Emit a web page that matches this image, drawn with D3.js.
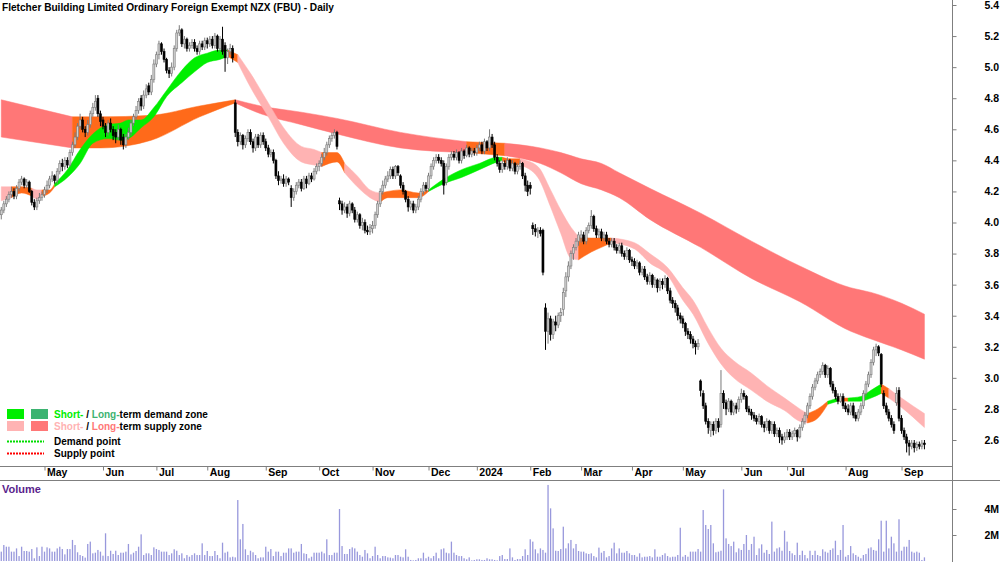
<!DOCTYPE html>
<html><head><meta charset="utf-8">
<script src="https://cdn.jsdelivr.net/npm/d3@7"></script>
<style>
body{margin:0;background:#fff}
svg{display:block}
text{font-family:"Liberation Sans Narrow","Arial Narrow","Liberation Sans",Arial,sans-serif;font-weight:bold;font-size:10.5px;fill:#000}
</style></head><body>
<svg id="c" width="1000" height="562"></svg>
<script>
const titleText = "Fletcher Building Limited Ordinary Foreign Exempt NZX (FBU) - Daily";
// trading days per month (Apr 2023 .. Sep 2024)
const monthLabels = ["Apr","May","Jun","Jul","Aug","Sep","Oct","Nov","Dec","2024","Feb","Mar","Apr","May","Jun","Jul","Aug","Sep"];
const monthDays   = [17,23,21,20,23,21,21,22,19,21,20,20,20,23,18,23,22,10];
const yTicks = [2.6,2.8,3.0,3.2,3.4,3.6,3.8,4.0,4.2,4.4,4.6,4.8,5.0,5.2,5.4];
const volTicks = [2,4]; // millions

const open = [
4.05,4.08,4.12,4.15,4.18,4.20,4.17,4.22,4.26,4.28,4.24,4.26,4.20,4.13,4.10,4.14,4.16,
4.18,4.21,4.24,4.28,4.30,4.27,4.33,4.38,4.36,4.40,4.37,4.45,4.50,4.55,4.62,4.66,4.60,4.58,4.63,4.70,4.74,4.80,4.70,
4.66,4.62,4.58,4.64,4.60,4.58,4.55,4.60,4.55,4.50,4.55,4.58,4.64,4.68,4.72,4.80,4.75,4.82,4.88,4.84,4.92,
5.02,5.08,5.15,5.10,5.05,4.98,4.96,5.00,5.12,5.22,5.24,5.15,5.18,5.12,5.14,5.16,5.12,5.10,5.15,5.13,
5.17,5.15,5.18,5.14,5.20,5.12,5.18,5.14,5.06,5.10,5.12,4.77,4.58,4.52,4.56,4.50,4.54,4.58,4.52,4.48,4.55,4.50,4.56,
4.52,4.48,4.44,4.45,4.40,4.30,4.27,4.28,4.25,4.28,4.22,4.16,4.20,4.24,4.26,4.22,4.28,4.25,4.30,4.28,4.33,
4.36,4.38,4.42,4.45,4.50,4.54,4.56,4.58,4.14,4.12,4.08,4.10,4.06,4.12,4.08,4.02,4.05,3.98,4.00,3.95,3.94,
3.96,3.98,4.05,4.12,4.20,4.24,4.28,4.30,4.34,4.30,4.36,4.30,4.24,4.20,4.15,4.10,4.12,4.08,4.10,4.15,4.20,4.24,
4.22,4.30,4.36,4.40,4.42,4.40,4.38,4.26,4.36,4.42,4.44,4.42,4.45,4.40,4.46,4.43,4.48,4.44,4.46,
4.45,4.48,4.50,4.46,4.52,4.48,4.55,4.50,4.42,4.38,4.34,4.38,4.36,4.40,4.35,4.38,4.33,4.36,4.38,4.30,4.24,
4.24,3.98,3.96,3.94,3.95,3.95,3.45,3.30,3.38,3.28,3.36,3.34,3.40,3.44,3.56,3.65,3.72,3.80,3.84,3.88,
3.90,3.92,3.88,3.95,3.98,4.04,3.96,3.92,3.94,3.90,3.92,3.88,3.86,3.88,3.84,3.82,3.85,3.80,3.78,3.82,
3.76,3.75,3.72,3.74,3.68,3.70,3.65,3.62,3.66,3.60,3.63,3.58,3.62,3.60,3.64,3.56,3.50,3.48,3.45,3.40,
3.38,3.35,3.30,3.28,3.25,3.22,3.20,2.98,2.90,2.82,2.72,2.66,2.70,2.66,2.72,2.70,2.90,2.84,2.80,2.85,2.78,2.82,2.80,
2.86,2.90,2.88,2.80,2.78,2.76,2.74,2.72,2.75,2.70,2.68,2.72,2.66,2.70,2.64,2.66,2.62,2.60,
2.62,2.65,2.62,2.64,2.66,2.62,2.68,2.72,2.76,2.82,2.88,2.94,2.98,3.02,3.04,3.08,3.02,3.06,2.96,2.92,2.88,2.85,2.88,
2.82,2.80,2.78,2.82,2.76,2.74,2.78,2.82,2.90,2.96,3.02,3.10,3.18,3.20,3.15,2.90,2.82,2.78,2.74,2.70,2.84,2.92,
2.74,2.66,2.62,2.58,2.56,2.58,2.55,2.57,2.56,2.58];
const high = [
4.10,4.14,4.17,4.20,4.23,4.22,4.24,4.28,4.30,4.29,4.28,4.27,4.21,4.15,4.16,4.19,4.20,
4.23,4.27,4.30,4.33,4.31,4.35,4.40,4.41,4.42,4.42,4.47,4.52,4.58,4.64,4.70,4.68,4.62,4.66,4.72,4.77,4.82,4.82,4.72,
4.68,4.64,4.66,4.67,4.62,4.60,4.63,4.61,4.57,4.57,4.61,4.66,4.70,4.75,4.80,4.82,4.85,4.89,4.90,4.95,5.05,
5.10,5.17,5.16,5.12,5.06,5.00,5.03,5.14,5.24,5.27,5.25,5.20,5.19,5.16,5.18,5.18,5.14,5.17,5.17,5.19,
5.19,5.20,5.20,5.22,5.21,5.20,5.26,5.16,5.12,5.15,5.14,4.79,4.60,4.58,4.57,4.56,4.60,4.60,4.54,4.57,4.57,4.58,4.58,
4.54,4.50,4.47,4.47,4.41,4.33,4.30,4.31,4.30,4.29,4.24,4.22,4.26,4.28,4.28,4.30,4.30,4.32,4.32,4.35,4.38,
4.40,4.44,4.48,4.52,4.56,4.58,4.60,4.59,4.16,4.14,4.13,4.12,4.14,4.13,4.10,4.07,4.06,4.03,4.02,3.98,3.99,
4.01,4.07,4.14,4.22,4.27,4.30,4.33,4.36,4.36,4.37,4.37,4.31,4.26,4.21,4.17,4.14,4.14,4.12,4.17,4.22,4.26,4.26,
4.32,4.38,4.42,4.44,4.44,4.42,4.40,4.38,4.44,4.46,4.46,4.47,4.46,4.48,4.47,4.50,4.49,4.48,4.48,
4.50,4.52,4.52,4.54,4.53,4.60,4.57,4.52,4.44,4.40,4.40,4.40,4.42,4.41,4.40,4.39,4.38,4.40,4.39,4.32,4.27,
4.26,4.00,3.99,3.97,3.97,3.96,3.48,3.42,3.40,3.38,3.40,3.42,3.45,3.58,3.68,3.75,3.82,3.86,3.90,3.94,
3.95,3.94,3.97,4.00,4.08,4.05,3.98,3.96,3.96,3.94,3.94,3.90,3.90,3.90,3.86,3.87,3.87,3.82,3.84,3.83,
3.78,3.77,3.76,3.75,3.72,3.72,3.67,3.68,3.67,3.65,3.64,3.64,3.64,3.66,3.65,3.58,3.52,3.50,3.47,3.42,
3.40,3.36,3.32,3.30,3.27,3.24,3.25,2.99,2.92,2.84,2.74,2.72,2.72,2.74,2.74,3.05,2.92,2.86,2.87,2.86,2.84,2.84,2.88,
2.93,2.92,2.89,2.82,2.80,2.78,2.76,2.77,2.76,2.72,2.74,2.73,2.72,2.72,2.68,2.68,2.64,2.65,
2.67,2.67,2.66,2.68,2.67,2.70,2.74,2.78,2.84,2.90,2.96,3.00,3.04,3.06,3.10,3.09,3.08,3.07,2.98,2.94,2.90,2.90,2.90,
2.84,2.83,2.84,2.84,2.78,2.80,2.84,2.92,2.98,3.04,3.12,3.20,3.22,3.21,3.16,2.92,2.84,2.80,2.76,2.72,2.94,2.94,
2.76,2.68,2.64,2.60,2.60,2.60,2.59,2.59,2.60,2.60];
const low = [
4.02,4.06,4.10,4.13,4.16,4.15,4.15,4.20,4.24,4.22,4.22,4.19,4.11,4.08,4.08,4.12,4.14,
4.16,4.19,4.22,4.26,4.25,4.25,4.31,4.33,4.34,4.35,4.36,4.43,4.48,4.53,4.60,4.58,4.55,4.56,4.61,4.68,4.72,4.68,4.62,
4.60,4.55,4.56,4.58,4.53,4.51,4.53,4.50,4.47,4.48,4.53,4.56,4.62,4.66,4.70,4.72,4.73,4.80,4.82,4.82,4.90,
5.00,5.05,5.08,5.03,4.96,4.93,4.94,4.98,5.10,5.20,5.13,5.12,5.10,5.10,5.12,5.10,5.08,5.08,5.11,5.11,
5.12,5.13,5.12,5.12,5.10,5.10,5.08,4.97,5.02,5.08,5.03,4.55,4.49,4.50,4.47,4.48,4.52,4.50,4.45,4.46,4.48,4.48,4.50,
4.46,4.42,4.42,4.38,4.28,4.24,4.25,4.23,4.23,4.24,4.10,4.14,4.18,4.22,4.20,4.21,4.22,4.24,4.26,4.27,4.31,
4.33,4.36,4.40,4.43,4.48,4.52,4.54,4.47,4.08,4.05,4.06,4.03,4.04,4.06,4.00,4.00,3.96,3.95,3.93,3.92,3.92,
3.93,3.96,4.03,4.10,4.18,4.22,4.26,4.28,4.28,4.28,4.30,4.22,4.18,4.13,4.07,4.08,4.06,4.06,4.08,4.13,4.18,4.20,
4.20,4.28,4.34,4.38,4.38,4.36,4.18,4.24,4.34,4.40,4.40,4.40,4.38,4.38,4.41,4.42,4.42,4.42,4.43,
4.43,4.46,4.44,4.44,4.46,4.46,4.48,4.40,4.36,4.32,4.32,4.34,4.34,4.33,4.33,4.31,4.31,4.34,4.28,4.20,4.17,
4.18,3.92,3.91,3.90,3.91,3.66,3.18,3.22,3.24,3.25,3.30,3.32,3.36,3.40,3.52,3.62,3.70,3.76,3.82,3.85,
3.87,3.86,3.86,3.93,3.96,3.94,3.90,3.90,3.88,3.88,3.86,3.84,3.84,3.82,3.80,3.80,3.78,3.76,3.76,3.74,
3.72,3.70,3.70,3.66,3.66,3.63,3.60,3.60,3.58,3.58,3.55,3.56,3.57,3.58,3.54,3.48,3.45,3.42,3.37,3.35,
3.32,3.27,3.25,3.22,3.19,3.15,3.18,2.88,2.80,2.70,2.64,2.62,2.63,2.64,2.65,2.68,2.80,2.76,2.78,2.76,2.76,2.77,2.78,
2.84,2.86,2.78,2.76,2.73,2.72,2.70,2.70,2.68,2.65,2.66,2.64,2.64,2.62,2.62,2.58,2.57,2.58,
2.60,2.60,2.60,2.62,2.59,2.61,2.66,2.70,2.74,2.80,2.86,2.92,2.96,3.00,3.02,3.00,3.00,2.94,2.90,2.86,2.83,2.84,2.80,
2.78,2.76,2.76,2.74,2.72,2.72,2.76,2.80,2.88,2.94,3.00,3.08,3.14,3.14,2.94,2.80,2.76,2.72,2.68,2.64,2.82,2.72,
2.64,2.60,2.52,2.50,2.54,2.52,2.53,2.54,2.54,2.54];
const close = [
4.08,4.12,4.15,4.18,4.20,4.17,4.22,4.26,4.28,4.24,4.26,4.20,4.13,4.10,4.14,4.16,4.18,
4.21,4.24,4.28,4.30,4.27,4.33,4.38,4.36,4.40,4.37,4.45,4.50,4.55,4.62,4.66,4.60,4.58,4.63,4.70,4.74,4.78,4.70,4.65,
4.62,4.58,4.64,4.60,4.56,4.55,4.60,4.53,4.50,4.55,4.58,4.64,4.68,4.72,4.78,4.75,4.82,4.86,4.84,4.92,5.02,
5.08,5.15,5.10,5.05,4.98,4.96,5.00,5.12,5.22,5.24,5.15,5.18,5.12,5.14,5.16,5.12,5.10,5.15,5.13,5.17,
5.15,5.18,5.14,5.20,5.12,5.18,5.10,5.06,5.10,5.12,5.06,4.58,4.52,4.56,4.50,4.54,4.58,4.52,4.48,4.55,4.50,4.56,4.52,
4.48,4.44,4.45,4.40,4.30,4.27,4.28,4.25,4.28,4.26,4.16,4.20,4.24,4.26,4.22,4.28,4.25,4.30,4.28,4.33,4.36,
4.38,4.42,4.45,4.50,4.54,4.56,4.58,4.49,4.12,4.08,4.10,4.06,4.12,4.08,4.02,4.05,3.98,4.00,3.95,3.94,3.97,
3.98,4.05,4.12,4.20,4.24,4.28,4.30,4.34,4.30,4.36,4.32,4.24,4.20,4.15,4.10,4.12,4.08,4.10,4.15,4.20,4.24,4.22,
4.30,4.36,4.40,4.42,4.40,4.38,4.24,4.36,4.42,4.44,4.42,4.45,4.40,4.46,4.43,4.48,4.44,4.46,4.45,
4.48,4.50,4.46,4.52,4.48,4.55,4.50,4.42,4.38,4.34,4.38,4.36,4.40,4.35,4.38,4.33,4.36,4.38,4.30,4.24,4.20,
4.22,3.96,3.94,3.95,3.93,3.68,3.30,3.38,3.28,3.36,3.34,3.40,3.42,3.55,3.65,3.72,3.80,3.84,3.88,3.92,
3.92,3.88,3.95,3.98,4.04,3.96,3.92,3.94,3.90,3.92,3.88,3.86,3.88,3.84,3.82,3.85,3.80,3.78,3.82,3.76,
3.75,3.72,3.74,3.68,3.70,3.65,3.62,3.66,3.60,3.63,3.58,3.62,3.60,3.64,3.56,3.50,3.48,3.45,3.40,3.38,
3.35,3.30,3.28,3.25,3.22,3.20,3.22,2.92,2.82,2.72,2.68,2.70,2.66,2.72,2.68,2.90,2.84,2.80,2.85,2.78,2.82,2.80,2.86,
2.90,2.88,2.80,2.78,2.76,2.74,2.72,2.75,2.70,2.68,2.72,2.66,2.70,2.64,2.66,2.62,2.60,2.62,
2.65,2.62,2.64,2.66,2.62,2.68,2.72,2.76,2.82,2.88,2.94,2.98,3.02,3.04,3.08,3.02,3.06,2.96,2.92,2.88,2.85,2.88,2.82,
2.80,2.78,2.82,2.76,2.74,2.78,2.82,2.90,2.96,3.02,3.10,3.18,3.20,3.16,2.96,2.82,2.78,2.74,2.70,2.66,2.90,2.74,
2.66,2.62,2.58,2.56,2.58,2.55,2.57,2.56,2.58,2.57];
// volume in millions of shares
const volumeM = [
.72,1.23,1.10,1.10,.72,.72,.97,.38,1.10,.77, .77,.72,.92,.21,1.05,.38,1.10,.72,1.05,.97,
.72,.72,.97,1.10,.92,.51,.92,.92,1.62,1.23, .67,.46,.38,.26,1.31,1.49,.59,.64,.85,.72,
.41,2.13,.38,.79,.54,.79,.46,.64,.64,.72, 1.31,.51,.64,.77,1.10,2.05,.46,.59,.59,.46,
1.05,.92,.85,.72,.72,.72,.46,.59,.90,.79, .46,.59,.21,.46,.33,.46,.59,.46,.46,1.36,
.46,.77,.38,.38,.77,.46,.21,1.41,.64,.72, .28,.33,.28,4.69,1.67,2.85,.90,.46,.79,.67,
.46,.21,.28,.28,1.10,.72,.92,.38,.72,.72, .38,.64,.64,.97,.97,.64,.72,.72,1.31,.59,
.54,.21,.33,.64,.64,.64,.72,.59,1.67,.46, .46,.64,.64,4.0,1.15,.54,.54,.92,1.05,.97,
.72,.46,.33,.85,.59,.21,.38,1.10,.46,.21, .38,.38,.28,.26,.21,.46,.46,.33,.28,.90,
.33,.08,.05,.08,.21,.21,.64,.21,.33,.21, .38,.64,.21,.90,.97,.64,.59,1.49,.64,.46,
.38,.38,.21,.13,.28,.05,.08,.13,.13,.08, .08,.21,.13,.13,.08,.05,
.38,.46,.15,.15,.97,.28,.08,.15,.15,.38, .90,.46,1.67,1.49,.90,.59,.97,.85,.64,5.85,
4.05,2.51,.79,.77,.92,2.64,.97,1.36,1.62,.97, 1.31,.77,.72,.72,.59,.54,.59,.38,.28,1.03,
.64,.77,.28,.38,.97,1.41,.59,.97,.64,.64, .77,.59,.46,.46,.33,.59,.28,.33,.33,.38,
.28,.90,.33,.33,.46,.59,.38,.28,.33,.33, .46,2.56,.33,.46,.33,.72,.72,.72,.92,.72,
3.92,2.77,2.46,2.77,1.36,.67,.72,.79,5.51,1.74, 1.31,1.15,1.49,.67,.97,.85,1.31,2.0,.85,
1.31,1.87,.46,.97,1.28,.64,.85,.54,3.03,.72, .97,1.05,.79,2.33,1.49,.77,.59,.46,1.41,.46,
.79,.46,.21,.79,.46,.79,.46,.38,.90,.72, .64,.85,.97,1.56,.46,.85,2.77,.33,.46,
1.15,.59,.46,.33,.21,.46,.54,.97,1.05,.85, .79,1.67,3.10,.72,3.10,.97,1.87,1.36,.72,3.21,
.79,1.10,1.10,1.62,.72,.64,.72,.64,.08,.28];

// moving-average zones: sample day index, upper / lower price, zone type
const shortIdx = [0,4,8,12,14,16,19,21,26,31,36,42,47,50,55,60,65,71,76,81,86,89,93,98,105,111,118,123,126,132,135,140,145,149,152,157,164,168,174,181,188,195,197,200,204,211,216,220,224,227,232,236,240,249,255,262,268,272,278,283,288,295,301,308,314,317,321,325,329,333,338,342,346,349,354,363];
const shortTop = [4.23,4.23,4.23,4.22,4.21,4.21,4.21,4.25,4.34,4.47, 4.57,4.63,4.64,4.66,4.66,4.74,4.85,4.98,5.06,5.09, 5.11,5.11,5.08,4.96,4.77,4.61,4.49,4.47,4.45,4.45, 4.38,4.30,4.21,4.19,4.20,4.21,4.19,4.21,4.28,4.34, 4.38,4.42,4.42,4.41,4.41,4.36,4.21,4.08,3.97,3.91, 3.90,3.90,3.90,3.87,3.80,3.71,3.58,3.50,3.32,3.19, 3.11,3.03,2.95,2.87,2.80,2.77,2.80,2.85,2.87,2.87, 2.88,2.92,2.96,2.93,2.87,2.77];
const shortBot = [4.14,4.16,4.19,4.17,4.15,4.17,4.19,4.23,4.29,4.38, 4.51,4.54,4.53,4.54,4.61,4.68,4.81,4.90,4.97,5.03, 5.05,5.07,5.03,4.87,4.68,4.51,4.39,4.37,4.36,4.39, 4.32,4.23,4.16,4.13,4.16,4.16,4.16,4.20,4.25,4.29, 4.34,4.39,4.40,4.37,4.37,4.29,4.10,3.93,3.77,3.76, 3.81,3.84,3.87,3.83,3.74,3.66,3.50,3.41,3.22,3.09, 3.00,2.92,2.85,2.79,2.72,2.71,2.74,2.83,2.85,2.85, 2.85,2.87,2.90,2.87,2.81,2.68];
const shortZone = ["ss","mx","mx","ss","ss","mx","mx","sd","sd","sd", "sd","sd","sd","sd","sd","sd","sd","sd","sd","sd", "sd","mx","ss","ss","ss","ss","ss","ss","mx","mx", "ss","ss","ss","mx","mx","mx","mx","sd","sd","sd", "sd","sd","mx","mx","ss","ss","ss","ss","ss","mx", "mx","mx","ss","ss","ss","ss","ss","ss","ss","ss", "ss","ss","ss","ss","ss","mx","mx","sd","mx","sd", "sd","sd","mx","ss","ss","ss"];
const longIdx = [0,28,39,59,78,92,102,118,132,157,183,198,212,220,228,236,243,255,275,295,314,334,342,354,363];
const longTop = [4.79,4.68,4.68,4.69,4.75,4.79,4.75,4.71,4.67,4.58,4.52,4.51,4.48,4.45,4.41,4.38,4.32,4.22,4.06,3.88,3.72,3.58,3.55,3.48,3.41];
const longBot = [4.55,4.48,4.48,4.53,4.68,4.77,4.70,4.63,4.57,4.48,4.45,4.43,4.38,4.32,4.25,4.21,4.16,4.02,3.84,3.64,3.49,3.30,3.25,3.18,3.12];
const longZone = ["ls","mx","mx","mx","mx","ls","ls","ls","ls","ls","mx","ls","ls","ls","ls","ls","ls","ls","ls","ls","ls","ls","ls","ls","ls"];

const zoneColor = {sd:"#00ee00", ld:"#3cb371", ss:"#ffb3b3", ls:"#ff7777", mx:"#ff6a1a"};

const svg = d3.select("#c");
const N = close.length;
const xi = d3.scaleLinear().domain([-0.5, N - 0.5]).range([0, 925.7]);
const y = d3.scaleLinear().domain([2.6, 5.4]).range([440, 5]);
const vy = d3.scaleLinear().domain([0, 4]).range([561, 509]);

// bands
const area = d3.area().x(d => xi(d.i)).y0(d => y(d.b)).y1(d => y(d.t)).curve(d3.curveMonotoneX);
function drawBand(idx, top, bot, zone) {
  const pts = idx.map((d, k) => ({i: d, t: top[k], b: bot[k], z: zone[k]}));
  const g = svg.append("g");
  let s = 0;
  for (let k = 1; k < pts.length; k++) {
    if (k === pts.length - 1 || pts[k].z !== pts[s].z) {
      g.append("path").datum(pts.slice(s, k + 1)).attr("d", area)
        .attr("fill", zoneColor[pts[s].z]).attr("stroke", zoneColor[pts[s].z]).attr("stroke-width", 0.5);
      s = k;
    }
  }
}
drawBand(longIdx, longTop, longBot, longZone);
drawBand(shortIdx, shortTop, shortBot, shortZone);

// candles
const cd = close.map((c, i) => ({i, o: open[i], h: high[i], l: low[i], c}));
const cg = svg.append("g");
cg.selectAll("line").data(cd).join("line")
  .attr("x1", d => xi(d.i)).attr("x2", d => xi(d.i))
  .attr("y1", d => y(d.h)).attr("y2", d => y(d.l))
  .attr("stroke", d => d.c >= d.o ? "#7a7a7a" : "#000").attr("stroke-width", 1);
cg.selectAll("rect").data(cd).join("rect")
  .attr("x", d => xi(d.i) - 1).attr("width", 2)
  .attr("y", d => y(Math.max(d.o, d.c)))
  .attr("height", d => Math.max(1, Math.abs(y(d.o) - y(d.c))))
  .attr("fill", d => d.c >= d.o ? "#d0d0d0" : "#000")
  .attr("stroke", d => d.c >= d.o ? "#7a7a7a" : "#000").attr("stroke-width", 0.6);

// frame
const frame = svg.append("g").attr("stroke", "#7f7f7f").attr("stroke-width", 1);
frame.append("line").attr("x1", 0).attr("x2", 952).attr("y1", 466.5).attr("y2", 466.5);
frame.append("line").attr("x1", 0).attr("x2", 1000).attr("y1", 480.5).attr("y2", 480.5);
frame.append("line").attr("x1", 952.5).attr("x2", 952.5).attr("y1", 0).attr("y2", 562);

function plain(sel) { sel.attr("font-family", null).attr("font-size", null); }

// x axis
const starts = [];
monthDays.reduce((acc, n) => { starts.push(acc); return acc + n; }, 0);
const xa = svg.append("g").attr("transform", "translate(0,466.5)")
  .call(d3.axisBottom(xi).tickValues(starts.slice(1)).tickSize(4)
    .tickFormat((d) => monthLabels[starts.indexOf(d)]));
xa.select(".domain").remove();
xa.selectAll("line").attr("stroke", "#7f7f7f");
xa.selectAll("text").attr("text-anchor", "start").attr("x", 2).attr("y", 2).attr("dy", "0.72em");
plain(xa);

// y axis
const ya = svg.append("g").attr("transform", "translate(952.5,0)")
  .call(d3.axisRight(y).tickValues(yTicks).tickSize(4).tickPadding(28).tickFormat(d3.format(".1f")));
ya.select(".domain").remove();
ya.selectAll("line").attr("stroke", "#7f7f7f");
ya.selectAll("text").attr("text-anchor", "start");
plain(ya);

// volume
svg.append("g").selectAll("rect").data(volumeM).join("rect")
  .attr("x", (d, i) => xi(i) - 0.65).attr("width", 1.3)
  .attr("y", d => vy(d)).attr("height", d => vy(0) - vy(d))
  .attr("fill", "#9898dc");
const va = svg.append("g").attr("transform", "translate(952.5,0)")
  .call(d3.axisRight(vy).tickValues(volTicks).tickSize(4).tickPadding(28).tickFormat(d => d + "M"));
va.select(".domain").remove();
va.selectAll("line").attr("stroke", "#7f7f7f");
va.selectAll("text").attr("text-anchor", "start");
plain(va);
svg.append("text").attr("x", 2).attr("y", 493).style("fill", "#5a1e8c").style("font-size", "11px").text("Volume");

// title
svg.append("text").attr("x", 2).attr("y", 11).style("font-size", "11px")
  .attr("textLength", 332).attr("lengthAdjust", "spacingAndGlyphs").text(titleText);

// legend
const lg = svg.append("g");
const swatches = [["sd", 7, 409], ["ld", 31, 409], ["ss", 7, 421], ["ls", 31, 421]];
lg.selectAll("rect").data(swatches).join("rect")
  .attr("x", d => d[1]).attr("y", d => d[2]).attr("width", 17).attr("height", 10)
  .attr("fill", d => zoneColor[d[0]]);
const legendRows = [
  {y: 418, parts: [["Short-", zoneColor.sd], [" / ", "#000"], ["Long-", zoneColor.ld], ["term demand zone", "#000"]]},
  {y: 430, parts: [["Short-", zoneColor.ss], [" / ", "#000"], ["Long-", zoneColor.ls], ["term supply zone", "#000"]]},
  {y: 445, parts: [["Demand point", "#000"]]},
  {y: 457, parts: [["Supply point", "#000"]]}
];
legendRows.forEach(r => {
  const t = lg.append("text").attr("x", 54).attr("y", r.y).style("font-size", "10px");
  r.parts.forEach(p => t.append("tspan").style("fill", p[1]).text(p[0]));
});
lg.append("line").attr("x1", 7).attr("x2", 44).attr("y1", 441.5).attr("y2", 441.5)
  .attr("stroke", "#00dd00").attr("stroke-width", 2).attr("stroke-dasharray", "2,1");
lg.append("line").attr("x1", 7).attr("x2", 44).attr("y1", 453.5).attr("y2", 453.5)
  .attr("stroke", "#ff0000").attr("stroke-width", 2).attr("stroke-dasharray", "2,1");
</script>
</body></html>
